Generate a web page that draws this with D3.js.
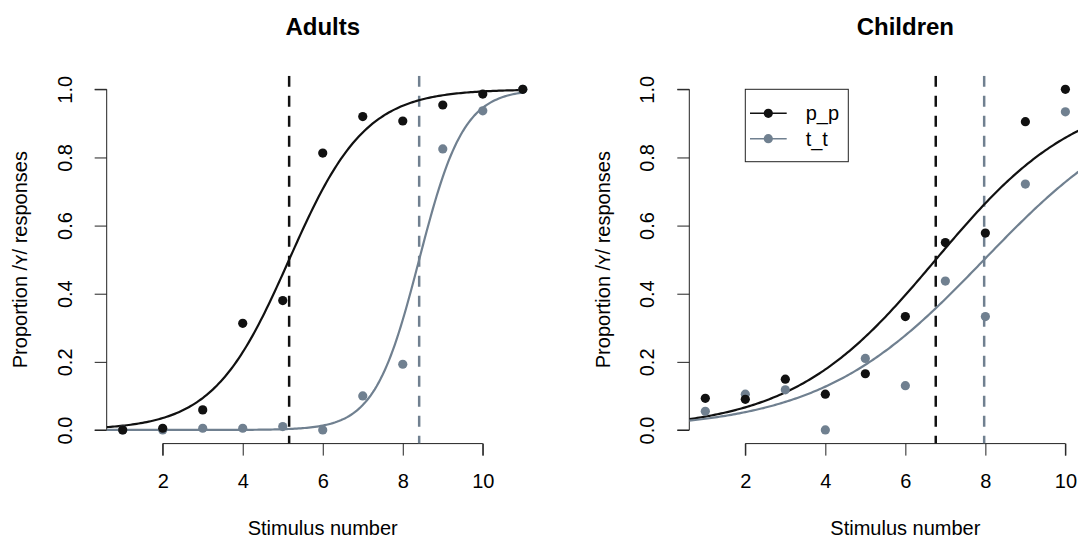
<!DOCTYPE html>
<html>
<head>
<meta charset="utf-8">
<script src="https://cdn.jsdelivr.net/npm/d3@7"></script>
<style>
  body { margin: 0; background: #fff; }
  text { font-family: "Liberation Sans", Arial, sans-serif; fill: #000; }
</style>
</head>
<body>
<div id="canvas"></div>
<script>
const width = 1078;
const height = 539;

// data
const stimulus = [1, 2, 3, 4, 5, 6, 7, 8, 9, 10, 11];
const xTicks = [2, 4, 6, 8, 10];
const yTicks = [0, 0.2, 0.4, 0.6, 0.8, 1.0];
const seriesNames = ["p_p", "t_t"];

const adultsPP = [0, 0.005, 0.059, 0.313, 0.38, 0.813, 0.92, 0.907, 0.954, 0.986, 1.0];
const adultsTT = [0, 0, 0.005, 0.005, 0.01, 0, 0.1, 0.193, 0.825, 0.937, 1.0];
const childrenPP = [0.093, 0.09, 0.149, 0.105, 0.165, 0.333, 0.55, 0.578, 0.905, 1.0];
const childrenTT = [0.055, 0.105, 0.118, 0, 0.21, 0.13, 0.437, 0.333, 0.722, 0.934];

// fitted logistic curves: [midpoint, slope]
const adultsFit = [[5.16, 1.05], [8.41, 1.8]];
const childrenFit = [[6.76, 0.555], [7.97, 0.485]];

const colors = ["#111111", "#708090"];

const svg = d3.select("#canvas")
    .append("svg")
    .attr("width", width)
    .attr("height", height);

function panel(left, title, points, fits, showLegend, id) {
    const plotW = 432.1;
    const top = 75.7, bottom = 443.6;

    const x = d3.scaleLinear().domain([0.6, 11.4]).range([left, left + plotW]);
    const y = d3.scaleLinear().domain([-0.04, 1.04]).range([bottom, top]);

    const g = svg.append("g");

    svg.append("clipPath").attr("id", "clip" + id)
        .append("rect")
        .attr("x", left).attr("y", top)
        .attr("width", plotW).attr("height", bottom - top);

    // title
    g.append("text")
        .attr("x", left + plotW / 2)
        .attr("y", 35)
        .attr("text-anchor", "middle")
        .style("font-weight", "bold")
        .style("font-size", "24px")
        .text(title);

    // x axis
    const xAxis = g.append("g")
        .attr("transform", `translate(0,${bottom})`)
        .call(d3.axisBottom(x).tickValues(xTicks).tickSize(12).tickPadding(18).tickFormat(d3.format("d")));
    xAxis.select(".domain").attr("d", `M${x(2)},12V0H${x(10)}V12`).attr("stroke", "#222");
    xAxis.selectAll(".tick line").attr("stroke", "#222");
    xAxis.selectAll("text").style("font-size", "20px").attr("dy", "0.71em");

    // y axis
    const yAxis = g.append("g")
        .attr("transform", `translate(${left},0)`)
        .call(d3.axisLeft(y).tickValues(yTicks).tickSize(12).tickFormat(d3.format(".1f")));
    yAxis.select(".domain").attr("d", `M-12,${y(0)}H0V${y(1)}H-12`).attr("stroke", "#222");
    yAxis.selectAll(".tick line").attr("stroke", "#222");
    yAxis.selectAll(".tick text")
        .attr("x", null).attr("dy", null)
        .attr("text-anchor", "middle")
        .attr("transform", "translate(-35,0) rotate(-90)")
        .style("font-size", "20px");

    // axis labels
    g.append("text")
        .attr("x", left + plotW / 2)
        .attr("y", 535)
        .attr("text-anchor", "middle")
        .style("font-size", "20px")
        .text("Stimulus number");

    g.append("text")
        .attr("transform", `translate(${left - 79.5},${(top + bottom) / 2}) rotate(-90)`)
        .attr("text-anchor", "middle")
        .style("font-size", "20px")
        .text("Proportion /\u028F/ responses");

    const inner = g.append("g").attr("clip-path", `url(#clip${id})`);

    // dashed midpoint lines
    fits.forEach((f, i) => {
        inner.append("line")
            .attr("x1", x(f[0])).attr("x2", x(f[0]))
            .attr("y1", top).attr("y2", bottom)
            .attr("stroke", colors[i])
            .attr("stroke-width", 2.5)
            .attr("stroke-dasharray", "11,9");
    });

    // fitted curves
    const grid = d3.range(0.6, 11.001, 0.05);
    const line = d3.line().x(d => x(d[0])).y(d => y(d[1]));
    fits.forEach((f, i) => {
        const pts = grid.map(v => [v, 1 / (1 + Math.exp(-f[1] * (v - f[0])))]);
        inner.append("path")
            .attr("d", line(pts))
            .attr("fill", "none")
            .attr("stroke", colors[i])
            .attr("stroke-width", 2.2);
    });

    // points: grey first, black on top
    [1, 0].forEach(i => {
        inner.selectAll(null)
            .data(points[i])
            .join("circle")
            .attr("cx", (d, j) => x(stimulus[j]))
            .attr("cy", d => y(d))
            .attr("r", 4.6)
            .attr("fill", colors[i]);
    });

    if (showLegend) {
        const lg = g.append("g");
        lg.append("rect")
            .attr("x", 745.3).attr("y", 89.3)
            .attr("width", 103).attr("height", 72.4)
            .attr("fill", "#fff").attr("stroke", "#222").attr("stroke-width", 1);
        seriesNames.forEach((name, i) => {
            const yy = 113.3 + i * 25.4;
            lg.append("line")
                .attr("x1", 750).attr("x2", 786.7)
                .attr("y1", yy).attr("y2", yy)
                .attr("stroke", colors[i]).attr("stroke-width", 1.5);
            lg.append("circle")
                .attr("cx", 768.3).attr("cy", yy).attr("r", 4.6)
                .attr("fill", colors[i]);
            lg.append("text")
                .attr("x", 805.7).attr("y", yy)
                .attr("dy", "0.35em")
                .style("font-size", "20px")
                .text(name);
        });
    }
}

panel(106.7, "Adults", [adultsPP, adultsTT], adultsFit, false, "a");
panel(689.3, "Children", [childrenPP, childrenTT], childrenFit, true, "c");
</script>
</body>
</html>
